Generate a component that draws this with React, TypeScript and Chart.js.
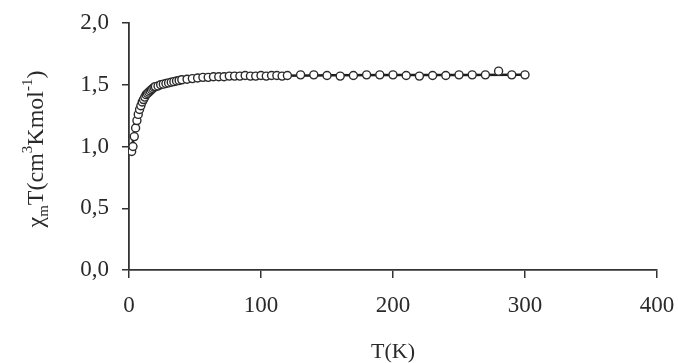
import React, { useEffect, useRef } from "react";
import { Chart, registerables } from "chart.js";

Chart.register(...registerables);

const T_POINTS = [
  2, 3, 4, 5, 6, 7, 8, 9, 10, 11, 12, 13, 14, 15, 16, 17, 18, 19, 20,
  22, 24, 26, 28, 30, 32, 34, 36, 38, 40, 44, 48, 52, 56, 60, 64, 68, 72,
  76, 80, 84, 88, 92, 96, 100, 104, 108, 112, 116, 120, 130, 140, 150, 160,
  170, 180, 190, 200, 210, 220, 230, 240, 250, 260, 270, 280, 290, 300,
];
const CHI_POINTS = [
  0.96, 1.0, 1.08, 1.15, 1.21, 1.26, 1.3, 1.33, 1.36, 1.38, 1.4, 1.42, 1.43,
  1.44, 1.45, 1.46, 1.47, 1.48, 1.485, 1.49, 1.5, 1.505, 1.51, 1.515, 1.52,
  1.525, 1.53, 1.535, 1.54, 1.545, 1.55, 1.555, 1.56, 1.56, 1.565, 1.565,
  1.565, 1.57, 1.57, 1.57, 1.575, 1.57, 1.57, 1.575, 1.57, 1.575, 1.575,
  1.57, 1.575, 1.58, 1.58, 1.575, 1.57, 1.575, 1.58, 1.58, 1.58, 1.575, 1.57,
  1.575, 1.575, 1.58, 1.58, 1.58, 1.61, 1.58, 1.58,
];

const T_FIT = [2, 3, 4, 5, 6, 8, 10, 12, 15, 20, 25, 30, 40, 50, 60, 80, 100, 150, 200, 250, 300];
const CHI_FIT = [
  0.97, 1.04, 1.11, 1.17, 1.22, 1.3, 1.355, 1.395, 1.44, 1.48, 1.5, 1.515,
  1.535, 1.55, 1.56, 1.568, 1.572, 1.576, 1.578, 1.579, 1.58,
];

const X_TICKS = [0, 100, 200, 300, 400];
const Y_TICKS = [0, 0.5, 1.0, 1.5, 2.0];

const AXIS_COLOR = "#333333";
const TEXT_COLOR = "#2a2a2a";
const FONT_FAMILY = "'Liberation Serif', 'Times New Roman', serif";

const yTitlePlugin = {
  id: "yTitleRich",
  afterDraw(chart: any) {
    const ctx = chart.ctx as CanvasRenderingContext2D;
    const main = 24;
    const small = 15;
    const segs: { t: string; s: "n" | "sub" | "sup" }[] = [
      { t: "\u03C7", s: "n" },
      { t: "m", s: "sub" },
      { t: "T(cm", s: "n" },
      { t: "3", s: "sup" },
      { t: "Kmol", s: "n" },
      { t: "-1", s: "sup" },
      { t: ")", s: "n" },
    ];
    ctx.save();
    let total = 0;
    const widths: number[] = [];
    for (const sg of segs) {
      ctx.font = `${sg.s === "n" ? main : small}px ${FONT_FAMILY}`;
      const w = ctx.measureText(sg.t).width;
      widths.push(w);
      total += w;
    }
    const cx = 43;
    const cy = 149;
    ctx.translate(cx, cy);
    ctx.rotate(-Math.PI / 2);
    ctx.fillStyle = TEXT_COLOR;
    ctx.textBaseline = "alphabetic";
    ctx.textAlign = "left";
    let x = -total / 2;
    segs.forEach((sg, i) => {
      ctx.font = `${sg.s === "n" ? main : small}px ${FONT_FAMILY}`;
      let dy = 0;
      if (sg.s === "sub") dy = 5;
      if (sg.s === "sup") dy = -11;
      ctx.fillText(sg.t, x, dy);
      x += widths[i];
    });
    ctx.restore();
  },
};

export default function App() {
  const ref = useRef<HTMLCanvasElement | null>(null);

  useEffect(() => {
    if (!ref.current) return;
    const chart = new Chart(ref.current, {
      type: "scatter",
      data: {
        datasets: [
          {
            label: "data",
            data: T_POINTS.map((t, i) => ({ x: t, y: CHI_POINTS[i] })),
            showLine: false,
            pointRadius: 4,
            pointBorderWidth: 1.4,
            pointBackgroundColor: "#ffffff",
            pointBorderColor: "#2a2a2a",
            order: 0,
          },
          {
            label: "fit",
            data: T_FIT.map((t, i) => ({ x: t, y: CHI_FIT[i] })),
            showLine: true,
            pointRadius: 0,
            borderColor: "#1e1e1e",
            borderWidth: 2.5,
            tension: 0.4,
            cubicInterpolationMode: "monotone",
            order: 1,
          },
        ],
      },
      options: {
        animation: false,
        responsive: false,
        events: [],
        layout: { padding: { top: 23, right: 21, left: 0, bottom: 0 } },
        plugins: {
          legend: { display: false },
          tooltip: { enabled: false },
        },
        scales: {
          x: {
            type: "linear",
            min: 0,
            max: 400,
            afterFit: (s: any) => {
              s.height = 93;
              s.paddingRight = 0;
              s.paddingLeft = 0;
            },
            afterBuildTicks: (s: any) => {
              s.ticks = X_TICKS.map((v) => ({ value: v }));
            },
            grid: {
              drawOnChartArea: false,
              drawTicks: true,
              tickLength: 8,
              color: AXIS_COLOR,
              lineWidth: 1.5,
            },
            border: { display: true, color: AXIS_COLOR, width: 1.8 },
            ticks: {
              color: TEXT_COLOR,
              padding: 14,
              font: { family: FONT_FAMILY, size: 23 },
              maxRotation: 0,
              autoSkip: false,
            },
            title: {
              display: true,
              text: "T(K)",
              color: TEXT_COLOR,
              font: { family: FONT_FAMILY, size: 22 },
              padding: { top: 0, bottom: -2 },
            },
          },
          y: {
            type: "linear",
            min: 0,
            max: 2,
            afterFit: (s: any) => {
              s.width = 129;
              s.paddingTop = 0;
              s.paddingBottom = 0;
            },
            afterBuildTicks: (s: any) => {
              s.ticks = Y_TICKS.map((v) => ({ value: v }));
            },
            grid: {
              drawOnChartArea: false,
              drawTicks: true,
              tickLength: 7,
              color: AXIS_COLOR,
              lineWidth: 1.5,
            },
            border: { display: true, color: AXIS_COLOR, width: 1.8 },
            ticks: {
              color: TEXT_COLOR,
              padding: 13,
              font: { family: FONT_FAMILY, size: 23 },
              autoSkip: false,
              callback: (v: any) => Number(v).toFixed(1).replace(".", ","),
            },
          },
        },
      },
      plugins: [yTitlePlugin],
    });
    return () => chart.destroy();
  }, []);

  return (
    <canvas
      ref={ref}
      width={678}
      height={363}
      style={{ position: "absolute", left: 0, top: 0, width: 678, height: 363, display: "block", background: "#fff" }}
    />
  );
}
